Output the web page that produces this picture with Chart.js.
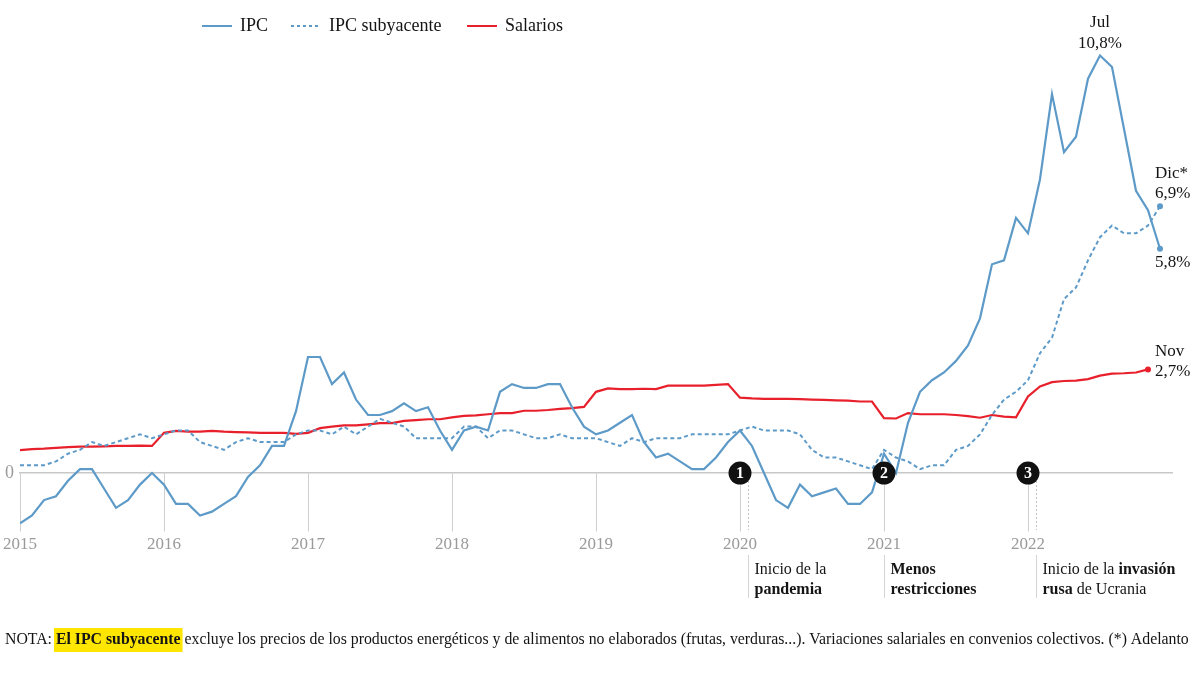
<!DOCTYPE html>
<html lang="es">
<head>
<meta charset="utf-8">
<title>IPC, IPC subyacente y salarios</title>
<script src="https://cdn.jsdelivr.net/npm/chart.js@4.4.1/dist/chart.umd.min.js"></script>
<style>
  html, body { margin: 0; padding: 0; background: #fff; }
  #wrap { width: 1200px; height: 675px; }
</style>
</head>
<body>
<div id="wrap"><canvas id="myChart" width="1200" height="675"></canvas></div>
<script>
// one point per month, Jan 2015 = 0
var years = ['2015', '2016', '2017', '2018', '2019', '2020', '2021', '2022'];
var yearTicks = [0, 12, 24, 36, 48, 60, 72, 84];

var ipc = [
  -1.3, -1.1, -0.7, -0.6, -0.2, 0.1, 0.1, -0.4, -0.9, -0.7, -0.3, 0.0,
  -0.3, -0.8, -0.8, -1.1, -1.0, -0.8, -0.6, -0.1, 0.2, 0.7, 0.7, 1.6,
  3.0, 3.0, 2.3, 2.6, 1.9, 1.5, 1.5, 1.6, 1.8, 1.6, 1.7, 1.1,
  0.6, 1.1, 1.2, 1.1, 2.1, 2.3, 2.2, 2.2, 2.3, 2.3, 1.7, 1.2,
  1.0, 1.1, 1.3, 1.5, 0.8, 0.4, 0.5, 0.3, 0.1, 0.1, 0.4, 0.8,
  1.1, 0.7, 0.0, -0.7, -0.9, -0.3, -0.6, -0.5, -0.4, -0.8, -0.8, -0.5,
  0.5, 0.0, 1.3, 2.1, 2.4, 2.6, 2.9, 3.3, 4.0, 5.4, 5.5, 6.6,
  6.2, 7.6, 9.8, 8.3, 8.7, 10.2, 10.8, 10.5, 8.9, 7.3, 6.8, 5.8
];

var ipcSub = [
  0.2, 0.2, 0.2, 0.3, 0.5, 0.6, 0.8, 0.7, 0.8, 0.9, 1.0, 0.9,
  1.0, 1.1, 1.1, 0.8, 0.7, 0.6, 0.8, 0.9, 0.8, 0.8, 0.8, 1.0,
  1.1, 1.1, 1.0, 1.2, 1.0, 1.2, 1.4, 1.3, 1.2, 0.9, 0.9, 0.9,
  0.9, 1.2, 1.2, 0.9, 1.1, 1.1, 1.0, 0.9, 0.9, 1.0, 0.9, 0.9,
  0.9, 0.8, 0.7, 0.9, 0.8, 0.9, 0.9, 0.9, 1.0, 1.0, 1.0, 1.0,
  1.1, 1.2, 1.1, 1.1, 1.1, 1.0, 0.6, 0.4, 0.4, 0.3, 0.2, 0.1,
  0.6, 0.4, 0.3, 0.1, 0.2, 0.2, 0.6, 0.7, 1.0, 1.5, 1.9, 2.1,
  2.4, 3.1, 3.5, 4.5, 4.8, 5.5, 6.1, 6.4, 6.2, 6.2, 6.4, 6.9
];

// ends in November 2022
var salarios = [
  0.59, 0.62, 0.63, 0.65, 0.67, 0.68, 0.68, 0.69, 0.7, 0.7, 0.71, 0.7,
  1.04, 1.09, 1.07, 1.07, 1.09, 1.07, 1.06, 1.05, 1.04, 1.04, 1.04, 1.01,
  1.04, 1.16, 1.2, 1.23, 1.23, 1.26, 1.29, 1.29, 1.35, 1.37, 1.39, 1.39,
  1.44, 1.48, 1.49, 1.52, 1.55, 1.55, 1.61, 1.61, 1.63, 1.66, 1.68, 1.71,
  2.1, 2.19, 2.17, 2.17, 2.18, 2.17, 2.26, 2.26, 2.26, 2.26, 2.28, 2.3,
  1.95, 1.93, 1.92, 1.92, 1.92, 1.91, 1.9, 1.89, 1.88, 1.87, 1.85, 1.85,
  1.42, 1.41, 1.55, 1.52, 1.52, 1.52, 1.5, 1.47, 1.43, 1.5, 1.46, 1.44,
  1.98, 2.24, 2.35, 2.38, 2.39, 2.43, 2.52, 2.57, 2.58, 2.6, 2.68
];

// numbered events on the zero line: month of the marker, month of the dotted line
var events = [
  { num: '1', at: 60, line: 60.7, lines: [[['Inicio de la', false]], [['pandemia', true]]] },
  { num: '2', at: 72, line: 72, lines: [[['Menos', true]], [['restricciones', true]]] },
  { num: '3', at: 84, line: 84.7, lines: [[['Inicio de la ', false], ['invasión', true]], [['rusa', true], [' de Ucrania', false]]] }
];

var BLUE = '#5d9ac8';
var RED = '#e8202c';
var SERIF = '"Liberation Serif", "DejaVu Serif", serif';
var INK = '#141414';

function toPoints(arr) {
  return arr.map(function (v, i) { return { x: i, y: v }; });
}
function lastDot(c) {
  return c.dataIndex === c.dataset.data.length - 1 ? 3 : 0;
}

function drawRuns(ctx, runs, x, y) {
  runs.forEach(function (r) {
    ctx.font = (r[1] ? 'bold ' : '') + '16px ' + SERIF;
    ctx.fillText(r[0], x, y);
    x += ctx.measureText(r[0]).width;
  });
}

var extras = {
  id: 'extras',
  beforeDatasetsDraw: function (chart) {
    var ctx = chart.ctx, xs = chart.scales.x, ys = chart.scales.y;
    var y0 = ys.getPixelForValue(0);
    ctx.save();
    events.forEach(function (e) {
      var lx = Math.round(xs.getPixelForValue(e.line)) + 0.5;
      ctx.strokeStyle = '#c4c4c4';
      ctx.lineWidth = 1;
      if (e.line !== e.at) {
        ctx.setLineDash([2, 2]);
        ctx.beginPath(); ctx.moveTo(lx, y0); ctx.lineTo(lx, 530); ctx.stroke();
      }
      ctx.setLineDash([]);
      ctx.strokeStyle = '#d4d4d4';
      ctx.beginPath(); ctx.moveTo(lx, 555); ctx.lineTo(lx, 598); ctx.stroke();
      ctx.fillStyle = INK;
      ctx.textBaseline = 'middle';
      ctx.textAlign = 'left';
      e.lines.forEach(function (runs, k) {
        drawRuns(ctx, runs, lx + 6, 570 + k * 20);
      });
    });
    ctx.restore();
  },
  afterDatasetsDraw: function (chart) {
    var ctx = chart.ctx, xs = chart.scales.x, ys = chart.scales.y;
    var y0 = ys.getPixelForValue(0);
    ctx.save();
    // numbered markers
    events.forEach(function (e) {
      var cx = xs.getPixelForValue(e.at);
      ctx.fillStyle = '#111';
      ctx.beginPath(); ctx.arc(cx, y0, 11.5, 0, Math.PI * 2); ctx.fill();
      ctx.fillStyle = '#fff';
      ctx.font = 'bold 16px ' + SERIF;
      ctx.textAlign = 'center';
      ctx.textBaseline = 'middle';
      ctx.fillText(e.num, cx, y0 + 1);
    });

    // value labels
    ctx.fillStyle = INK;
    ctx.font = '17px ' + SERIF;
    ctx.textBaseline = 'middle';
    var peak = ipc.indexOf(Math.max.apply(null, ipc));
    var px = xs.getPixelForValue(peak), py = ys.getPixelForValue(ipc[peak]);
    ctx.textAlign = 'center';
    ctx.fillText('Jul', px, py - 33);
    ctx.fillText('10,8%', px, py - 12);

    ctx.textAlign = 'left';
    var n = ipc.length - 1;
    var ex = xs.getPixelForValue(n);
    var sy = ys.getPixelForValue(ipcSub[n]);
    ctx.fillText('Dic*', ex - 5, sy - 33);
    ctx.fillText('6,9%', ex - 5, sy - 13);
    ctx.fillText('5,8%', ex - 5, ys.getPixelForValue(ipc[n]) + 14);

    var m = salarios.length - 1;
    var wx = xs.getPixelForValue(m), wy = ys.getPixelForValue(salarios[m]);
    ctx.fillText('Nov', wx + 7, wy - 18);
    ctx.fillText('2,7%', wx + 7, wy + 2);

    // legend
    var items = [
      { label: 'IPC', color: BLUE, dash: [], x: 202 },
      { label: 'IPC subyacente', color: BLUE, dash: [3, 3], x: 291 },
      { label: 'Salarios', color: RED, dash: [], x: 467 }
    ];
    ctx.font = '18px ' + SERIF;
    items.forEach(function (it) {
      ctx.strokeStyle = it.color;
      ctx.lineWidth = 2;
      ctx.setLineDash(it.dash);
      ctx.beginPath(); ctx.moveTo(it.x, 26); ctx.lineTo(it.x + 30, 26); ctx.stroke();
      ctx.fillStyle = INK;
      ctx.fillText(it.label, it.x + 38, 26);
    });
    ctx.setLineDash([]);

    // note
    var pre = 'NOTA: ', hl = 'El IPC subyacente';
    var post = ' excluye los precios de los productos energéticos y de alimentos no elaborados (frutas, verduras...). Variaciones salariales en convenios colectivos. (*) Adelanto';
    var size = 15;
    ctx.font = size + 'px ' + SERIF;
    var w = ctx.measureText(pre + post).width;
    ctx.font = 'bold ' + size + 'px ' + SERIF;
    w += ctx.measureText(hl).width;
    size = size * 1185 / w;
    var x = 5, ny = 640;
    ctx.font = size + 'px ' + SERIF;
    ctx.fillText(pre, x, ny);
    x += ctx.measureText(pre).width;
    ctx.font = 'bold ' + size + 'px ' + SERIF;
    var hw = ctx.measureText(hl).width;
    ctx.fillStyle = '#ffe600';
    ctx.fillRect(x - 2, ny - 12, hw + 4, 24);
    ctx.fillStyle = INK;
    ctx.fillText(hl, x, ny);
    x += hw;
    ctx.font = size + 'px ' + SERIF;
    ctx.fillText(post, x, ny);
    ctx.restore();
  }
};

var ctx = document.getElementById('myChart').getContext('2d');
var myChart = new Chart(ctx, {
  type: 'line',
  data: {
    datasets: [{
      label: 'IPC',
      data: toPoints(ipc),
      borderColor: BLUE,
      backgroundColor: BLUE,
      borderWidth: 2.2,
      pointRadius: lastDot,
      pointBorderWidth: 0
    }, {
      label: 'IPC subyacente',
      data: toPoints(ipcSub),
      borderColor: BLUE,
      backgroundColor: BLUE,
      borderWidth: 2,
      borderDash: [4, 3],
      pointRadius: lastDot,
      pointBorderWidth: 0
    }, {
      label: 'Salarios',
      data: toPoints(salarios),
      borderColor: RED,
      backgroundColor: RED,
      borderWidth: 2.2,
      pointRadius: lastDot,
      pointBorderWidth: 0
    }]
  },
  options: {
    responsive: false,
    animation: false,
    layout: { padding: { top: 40, bottom: 144, left: 0, right: 28 } },
    plugins: {
      legend: { display: false },
      tooltip: { enabled: false }
    },
    scales: {
      x: {
        type: 'linear',
        min: 0,
        max: 96,
        position: { y: 0 },
        afterBuildTicks: function (s) {
          s.ticks = yearTicks.map(function (v) { return { value: v }; });
        },
        ticks: {
          color: '#9a9a9a',
          font: { family: SERIF, size: 17 },
          padding: 3,
          maxRotation: 0,
          autoSkip: false,
          callback: function (v) { return years[yearTicks.indexOf(v)]; }
        },
        grid: { drawOnChartArea: false, drawTicks: true, tickLength: 58, color: '#cfcfcf', lineWidth: 1 },
        border: { display: true, color: '#c8c8c8', width: 1.5 }
      },
      y: {
        type: 'linear',
        min: -1.5,
        max: 11.2,
        afterBuildTicks: function (s) { s.ticks = [{ value: 0 }]; },
        afterFit: function (s) { s.width = 20; },
        ticks: {
          color: '#9a9a9a',
          font: { family: SERIF, size: 18 },
          padding: 6,
          callback: function (v) { return v === 0 ? '0' : ''; }
        },
        grid: { display: false, drawTicks: false },
        border: { display: false }
      }
    }
  },
  plugins: [extras]
});
</script>
</body>
</html>
